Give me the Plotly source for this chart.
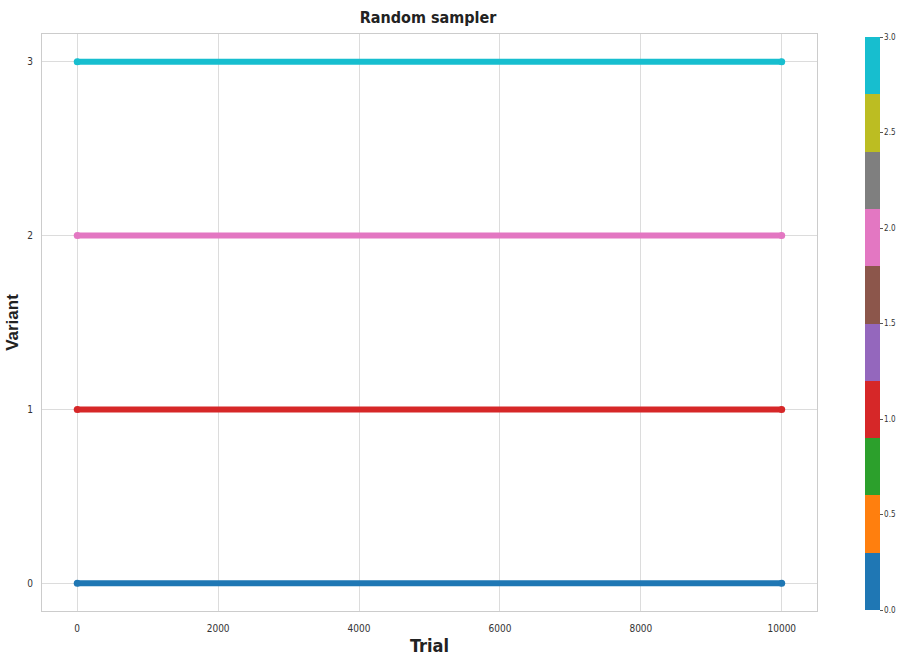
import plotly.graph_objects as go

# Sampled variant for each trial, summarised per variant level:
# every variant is drawn across the whole run of trials.
variants = [0, 1, 2, 3]
first_trial = [0, 0, 0, 0]
last_trial = [9999, 9999, 9999, 9999]

x_ticks = [0, 2000, 4000, 6000, 8000, 10000]
y_ticks = [0, 1, 2, 3]
cbar_ticks = [0.0, 0.5, 1.0, 1.5, 2.0, 2.5, 3.0]

# tab10 palette as a stepped colour scale over [0, 3]
tab10 = ["#1f77b4", "#ff7f0e", "#2ca02c", "#d62728", "#9467bd",
         "#8c564b", "#e377c2", "#7f7f7f", "#bcbd22", "#17becf"]
n = len(tab10)
colorscale = []
for i, c in enumerate(tab10):
    colorscale.append([i / n, c])
    colorscale.append([(i + 1) / n, c])

cmin, cmax = 0.0, 3.0


def color_for(v):
    idx = min(int((v - cmin) / (cmax - cmin) * n), n - 1)
    return tab10[idx]


fig = go.Figure()

for v, x0, x1 in zip(variants, first_trial, last_trial):
    col = color_for(v)
    fig.add_trace(go.Scatter(
        x=[x0, x1], y=[v, v], mode="lines+markers",
        line=dict(color=col, width=6),
        marker=dict(color=col, size=7),
        showlegend=False, hoverinfo="skip",
    ))

narrow = "Liberation Sans Narrow, DejaVu Sans Condensed, Arial"

# colour bar carrier
fig.add_trace(go.Scatter(
    x=[first_trial[0]], y=[variants[0]], mode="markers",
    marker=dict(
        color=[variants[0]], colorscale=colorscale, cmin=cmin, cmax=cmax,
        size=0.1, opacity=0,
        colorbar=dict(
            x=1.062, xanchor="left", xref="paper", xpad=0, ypad=0,
            y=0.498, yanchor="middle", len=0.993, lenmode="fraction",
            thickness=15, outlinewidth=0,
            tickvals=cbar_ticks, ticktext=[f"{t:.1f}" for t in cbar_ticks],
            ticks="outside", ticklen=3, tickcolor="#555",
            tickfont=dict(family=narrow, size=8, color="#333"),
        ),
    ),
    showlegend=False, hoverinfo="skip",
))

axis_font = dict(family=narrow, size=10, color="#333")

fig.update_layout(
    width=905, height=658,
    margin=dict(l=42, r=88, t=34, b=47, autoexpand=False),
    paper_bgcolor="white", plot_bgcolor="white",
    title=dict(text="<b>Random sampler</b>", x=0.473, xanchor="center", y=0.973, yanchor="middle",
               font=dict(family=narrow, size=16, color="#222")),
    xaxis=dict(
        range=[-500, 10500], tickvals=x_ticks, ticktext=[str(t) for t in x_ticks],
        showgrid=True, gridcolor="#dcdcdc", gridwidth=1, zeroline=False,
        showline=True, linecolor="#cccccc", mirror=True, linewidth=1,
        tickfont=axis_font, ticks="", ticklabelstandoff=8,
        title=dict(text="<b>Trial</b>", standoff=6,
                   font=dict(family=narrow, size=18, color="#222")),
    ),
    yaxis=dict(
        range=[-0.16, 3.16], tickvals=y_ticks, ticktext=[str(t) for t in y_ticks],
        showgrid=True, gridcolor="#dcdcdc", gridwidth=1, zeroline=False,
        showline=True, linecolor="#cccccc", mirror=True, linewidth=1,
        tickfont=axis_font, ticks="", ticklabelstandoff=6,
        title=dict(text="<b>Variant</b>", standoff=4,
                   font=dict(family="Liberation Sans, Arial", size=17, color="#222")),
    ),
)

fig.write_html("out.html")
